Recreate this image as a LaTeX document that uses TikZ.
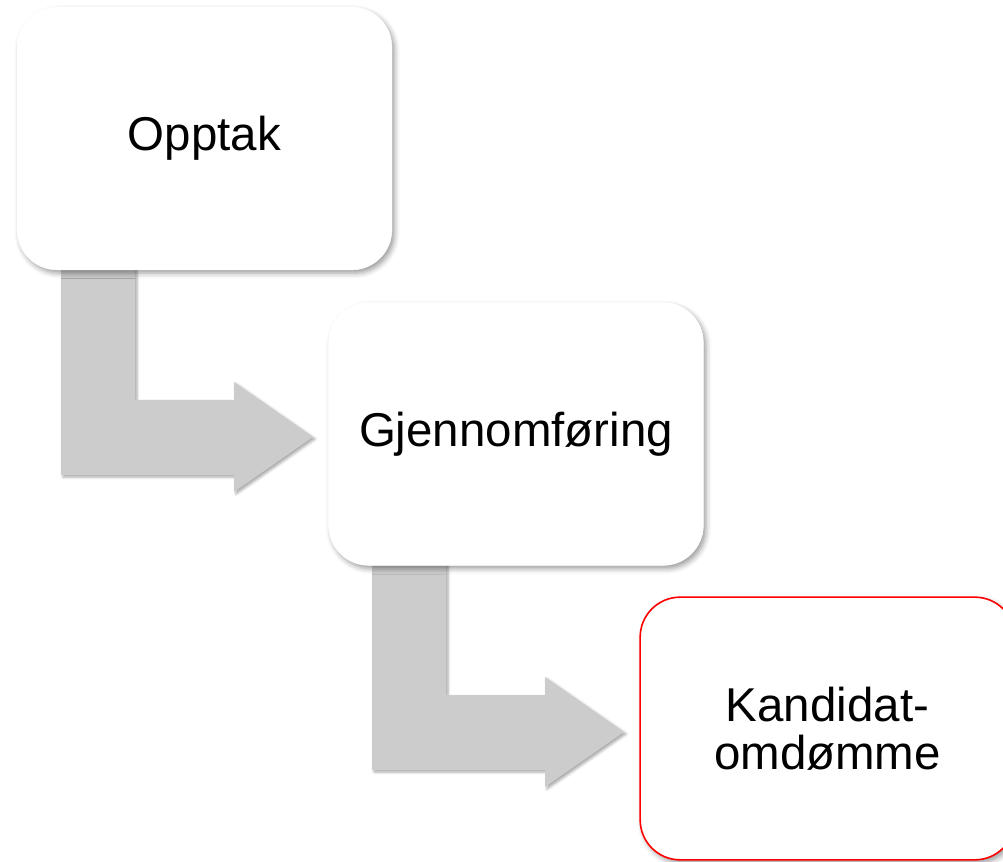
\documentclass[tikz,border=0pt]{standalone}
\usepackage{fontspec}
\setmainfont{Liberation Sans}
\usetikzlibrary{shadows.blur}
\definecolor{arrowgray}{RGB}{204,204,204}
\tikzset{
  stage/.style={rectangle, rounded corners=30pt, fill=white, draw=white,
    minimum width=281pt, minimum height=197pt, align=center,
    font=\fontsize{35.6}{36}\selectfont,
    blur shadow={shadow xshift=2pt, shadow yshift=-2.5pt, shadow blur radius=4pt, shadow opacity=40}},
  bentarrow/.style={fill=arrowgray,
    blur shadow={shadow xshift=1.5pt, shadow yshift=-1.5pt, shadow blur radius=2pt, shadow opacity=35}}
}
\begin{document}
\begin{tikzpicture}[x=0.75pt, y=-0.75pt]
\useasboundingbox (0,0) rectangle (1003,862);
% arrows between the stages
\foreach \dx/\dy in {0/0, 311/295}{
  \begin{scope}[shift={(\dx,\dy)}]
  \fill[bentarrow] (61,262) -- (135,262) -- (135,400) -- (234,400) -- (234,382)
    -- (313,437) -- (234,492) -- (234,475) -- (61,475) -- cycle;
  \end{scope}
}
% stages
\node[stage] (opptak) at (204.5,138.5) {Opptak};
\node[stage] (gjennom) at (516,434) {Gjennomføring};
\node[stage, draw=red, line width=1.2pt] (omdomme) at (827.5,728.5) {Kandidat-\\omdømme};

\end{tikzpicture}
\end{document}
